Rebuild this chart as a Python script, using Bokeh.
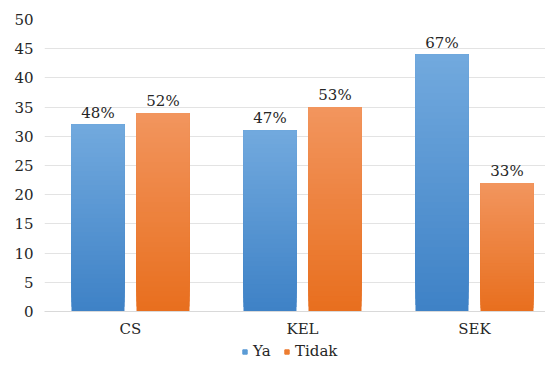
import numpy as np
from bokeh.plotting import figure
from bokeh.layouts import column
from bokeh.models import (Range1d, FixedTicker, ColumnDataSource, Legend, LegendItem)
from bokeh.core.properties import value
from bokeh.embed import file_html
from bokeh.resources import INLINE

categories = ["CS", "KEL", "SEK"]
ya = [32, 31, 44]
tidak = [34, 35, 22]
ya_labels = ["48%", "47%", "67%"]
tidak_labels = ["52%", "53%", "33%"]
y_ticks = [0, 5, 10, 15, 20, 25, 30, 35, 40, 45, 50]
series_names = ["Ya", "Tidak"]

FONT = "DejaVu Serif"
FS = "15px"
TXT = "#262626"
blue_top, blue_bot = (0x72, 0xA9, 0xDE), (0x3E, 0x82, 0xC6)
orange_top, orange_bot = (0xF2, 0x95, 0x5E), (0xE8, 0x6F, 0x1E)

p = figure(width=545, height=340, output_backend="svg", toolbar_location=None,
           x_range=Range1d(0, 2.913), y_range=Range1d(0, 50),
           min_border_left=44, min_border_right=0, min_border_top=19,
           min_border_bottom=28)
p.outline_line_color = None
p.background_fill_color = "white"
p.border_fill_color = "white"

xc = np.arange(len(categories)) + 0.5
off = 0.189
bw = 0.308

def hexc(c):
    return "#%02x%02x%02x" % tuple(int(round(v)) for v in c)

def gradient_bars(xs, vals, ctop, cbot, n=40):
    bottoms, tops, xx, cols = [], [], [], []
    for i in range(n):
        f = (i + 0.5) / n
        col = hexc(tuple(cbot[k] + (ctop[k] - cbot[k]) * f for k in range(3)))
        for x, v in zip(xs, vals):
            bottoms.append(v * i / n); tops.append(v); xx.append(x); cols.append(col)
    src = ColumnDataSource(dict(x=xx, bottom=bottoms, top=tops, color=cols))
    return p.vbar(x="x", bottom="bottom", top="top", width=bw, source=src,
                  fill_color="color", line_color=None)

gradient_bars(xc - off, ya, blue_top, blue_bot)
gradient_bars(xc + off, tidak, orange_top, orange_bot)

lab = ColumnDataSource(dict(x=list(xc - off) + list(xc + off), y=ya + tidak,
                            t=ya_labels + tidak_labels))
p.text(x="x", y="y", text="t", source=lab, text_align="center",
       text_baseline="bottom", y_offset=-3, text_font=value(FONT),
       text_font_size=FS, text_color=TXT)

p.xaxis.ticker = FixedTicker(ticks=list(xc))
p.xaxis.major_label_overrides = {float(x): c for x, c in zip(xc, categories)}
p.xaxis.major_label_text_font = FONT
p.xaxis.major_label_text_font_size = FS
p.xaxis.major_label_text_color = TXT
p.xaxis.major_tick_line_color = None
p.xaxis.major_tick_out = 0
p.xaxis.major_tick_in = 0
p.xaxis.minor_tick_line_color = None
p.xaxis.axis_line_color = "#D9D9D9"
p.xaxis.major_label_standoff = 8

p.yaxis.ticker = FixedTicker(ticks=y_ticks)
p.yaxis.major_label_text_font = FONT
p.yaxis.major_label_text_font_size = FS
p.yaxis.major_label_text_color = TXT
p.yaxis.major_tick_line_color = None
p.yaxis.major_tick_out = 0
p.yaxis.major_tick_in = 0
p.yaxis.minor_tick_line_color = None
p.yaxis.axis_line_color = None
p.yaxis.major_label_standoff = 11

p.xgrid.grid_line_color = None
p.ygrid.grid_line_color = "#E3E3E3"
p.ygrid.ticker = FixedTicker(ticks=y_ticks)

# legend strip
lg = figure(width=545, height=27, output_backend="svg", toolbar_location=None,
            x_range=Range1d(0, 1), y_range=Range1d(0, 1),
            min_border=0, min_border_left=0, min_border_right=0,
            min_border_top=0, min_border_bottom=0)
lg.axis.visible = False
lg.grid.visible = False
lg.outline_line_color = None
r_ya = lg.scatter(x=[-10], y=[-10], marker="square", size=9, color="#5B9BD5")
r_td = lg.scatter(x=[-10], y=[-10], marker="square", size=9, color="#ED7D31")
legend = Legend(items=[LegendItem(label=series_names[0], renderers=[r_ya]),
                       LegendItem(label=series_names[1], renderers=[r_td])],
                orientation="horizontal", location=(195, 7),
                label_text_font=FONT, label_text_font_size=FS,
                label_text_color=TXT, border_line_color=None,
                background_fill_alpha=0, glyph_width=11, glyph_height=11,
                spacing=8, padding=2, margin=0, label_standoff=3)
lg.add_layout(legend, "center")

open("out.html", "w").write(file_html(column(p, lg, spacing=0), INLINE))
